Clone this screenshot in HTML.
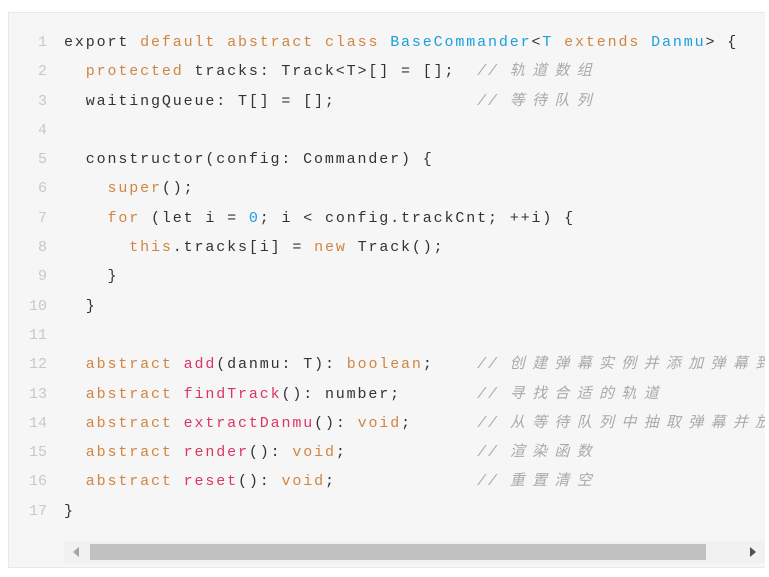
<!DOCTYPE html>
<html><head><meta charset="utf-8"><style>
body{margin:0;background:#fff;width:769px;height:577px;overflow:hidden;position:relative;font-family:"Liberation Mono","Noto Sans CJK SC",monospace;}
.box{position:absolute;left:8px;top:12px;width:757px;height:556px;background:#f6f6f6;border:1px solid #e8e8e8;border-right:none;overflow:hidden;box-sizing:border-box;}
.ln{position:absolute;left:0;top:15px;width:38px;text-align:right;color:#c8c8c8;font-size:15px;}
.code{position:absolute;left:55px;top:15px;font-size:15px;letter-spacing:1.87px;color:#333;}
.ln div,.code div{height:29.3px;line-height:29.3px;white-space:pre;overflow:visible;}
.k{color:#d08642}.b{color:#1aa0de}.f{color:#dc3560}
.c{color:#aaa;font-style:italic}
.z{letter-spacing:7.3px;font-family:"Noto Sans CJK SC",sans-serif;line-height:10px;}
.sb{position:absolute;left:55px;top:528px;width:702px;height:22px;background:#f1f1f1;}
.th{position:absolute;left:26px;top:3px;width:616px;height:16px;background:#c1c1c1;}
.al{position:absolute;left:9px;top:6px;width:0;height:0;border-top:5px solid transparent;border-bottom:5px solid transparent;border-right:6px solid #a3a3a3;}
.ar{position:absolute;left:686px;top:6px;width:0;height:0;border-top:5px solid transparent;border-bottom:5px solid transparent;border-left:6px solid #505050;}
</style></head><body>
<div class="box">
<div class="ln"><div>1</div><div>2</div><div>3</div><div>4</div><div>5</div><div>6</div><div>7</div><div>8</div><div>9</div><div>10</div><div>11</div><div>12</div><div>13</div><div>14</div><div>15</div><div>16</div><div>17</div></div>
<div class="code">
<div>export <span class="k">default</span> <span class="k">abstract</span> <span class="k">class</span> <span class="b">BaseCommander</span>&lt;<span class="b">T</span> <span class="k">extends</span> <span class="b">Danmu</span>&gt; {</div>
<div>  <span class="k">protected</span> tracks: Track&lt;T&gt;[] = [];  <span class="c">// <span class="z">轨道数组</span></span></div>
<div>  waitingQueue: T[] = [];             <span class="c">// <span class="z">等待队列</span></span></div>
<div> </div>
<div>  constructor(config: Commander) {</div>
<div>    <span class="k">super</span>();</div>
<div>    <span class="k">for</span> (let i = <span class="b">0</span>; i &lt; config.trackCnt; ++i) {</div>
<div>      <span class="k">this</span>.tracks[i] = <span class="k">new</span> Track();</div>
<div>    }</div>
<div>  }</div>
<div> </div>
<div>  <span class="k">abstract</span> <span class="f">add</span>(danmu: T): <span class="k">boolean</span>;    <span class="c">// <span class="z">创建弹幕实例并添加弹幕到等待队列</span></span></div>
<div>  <span class="k">abstract</span> <span class="f">findTrack</span>(): number;       <span class="c">// <span class="z">寻找合适的轨道</span></span></div>
<div>  <span class="k">abstract</span> <span class="f">extractDanmu</span>(): <span class="k">void</span>;      <span class="c">// <span class="z">从等待队列中抽取弹幕并放入弹幕</span></span></div>
<div>  <span class="k">abstract</span> <span class="f">render</span>(): <span class="k">void</span>;            <span class="c">// <span class="z">渲染函数</span></span></div>
<div>  <span class="k">abstract</span> <span class="f">reset</span>(): <span class="k">void</span>;             <span class="c">// <span class="z">重置清空</span></span></div>
<div>}</div>
</div>
<div class="sb"><div class="al"></div><div class="th"></div><div class="ar"></div></div>
</div>
</body></html>
